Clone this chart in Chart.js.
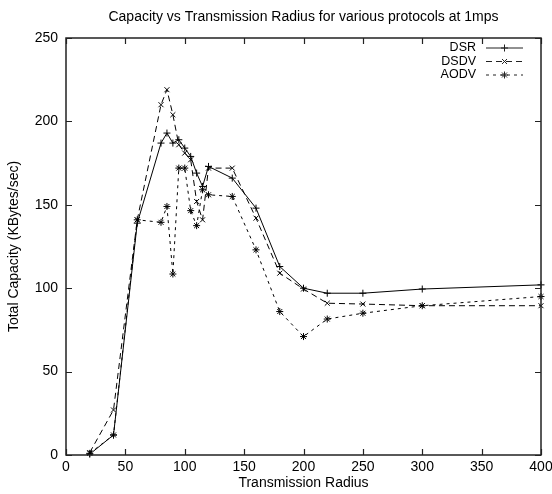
<!DOCTYPE html>
<html><head><meta charset="utf-8">
<script src="https://cdn.jsdelivr.net/npm/chart.js@4/dist/chart.umd.min.js"></script>
<style>html,body{margin:0;padding:0;background:#fff}#wrap{width:552px;height:494px;position:relative}</style>
</head><body><div id="wrap"><canvas id="c" width="552" height="494"></canvas></div>
<script>
const chartTitle = "Capacity vs Transmission Radius for various protocols at 1mps";
const xTitle = "Transmission Radius";
const yTitle = "Total Capacity (KBytes/sec)";
const seriesNames = ["DSR", "DSDV", "AODV"];
const radius = [20, 40, 60, 80, 85, 90, 95, 100, 105, 110, 115, 120, 140, 160, 180, 200, 220, 250, 300, 400];
const dsr  = [0.5, 12, 139, 187, 193, 187, 189, 184, 179, 169, 161, 173, 166, 148, 113, 100, 97, 97, 99.5, 102];
const dsdv = [1.5, 27, 141, 210, 219, 204, 186, 181, 177, 152, 141, 172, 172, 142, 109, 99.5, 91, 90.5, 89.5, 89.5];
const aodv = [1, 12, 141, 139.5, 149, 108.5, 172, 172, 146.5, 137.5, 159, 156, 155, 123, 86, 71, 81.5, 85, 89.5, 95];
const xTicks = [0, 50, 100, 150, 200, 250, 300, 350, 400];
const yTicks = [0, 50, 100, 150, 200, 250];

const FONT = "'Liberation Sans', Arial, Helvetica, sans-serif";
const styles = [
  {dash: [], point: 'cross'},
  {dash: [6, 4], point: 'crossRot'},
  {dash: [3, 4], point: 'star'}
];
const allSeries = [dsr, dsdv, aodv];

const datasets = allSeries.map((vals, i) => ({
  label: seriesNames[i],
  data: radius.map((r, k) => ({x: r, y: vals[k]})),
  borderColor: '#000',
  backgroundColor: '#000',
  borderWidth: 1,
  borderDash: styles[i].dash,
  pointStyle: styles[i].point,
  pointRadius: 3.5,
  pointBorderWidth: 1,
  pointBorderColor: '#000',
  tension: 0,
  fill: false,
  clip: false
}));

const framePlugin = {
  id: 'frame',
  afterDraw(chart) {
    const ctx = chart.ctx;
    const a = chart.chartArea;
    const xs = chart.scales.x, ys = chart.scales.y;
    ctx.save();
    ctx.strokeStyle = '#222';
    ctx.lineWidth = 1.5;
    ctx.setLineDash([]);
    ctx.strokeRect(a.left, a.top, a.right - a.left, a.bottom - a.top);
    ctx.lineWidth = 1.2;
    const tl = 6;
    xTicks.forEach(v => {
      const px = Math.round(xs.getPixelForValue(v)) + 0.5;
      ctx.beginPath();
      ctx.moveTo(px, a.bottom); ctx.lineTo(px, a.bottom - tl);
      ctx.moveTo(px, a.top); ctx.lineTo(px, a.top + tl);
      ctx.stroke();
    });
    yTicks.forEach(v => {
      const py = Math.round(ys.getPixelForValue(v)) + 0.5;
      ctx.beginPath();
      ctx.moveTo(a.left, py); ctx.lineTo(a.left + tl, py);
      ctx.moveTo(a.right, py); ctx.lineTo(a.right - tl, py);
      ctx.stroke();
    });
    // title
    ctx.fillStyle = '#000';
    ctx.font = '14px ' + FONT;
    ctx.textAlign = 'center';
    ctx.textBaseline = 'middle';
    ctx.fillText(chartTitle, (a.left + a.right) / 2, 17);
    // legend
    const rows = [48, 61.5, 75];
    ctx.font = '12.5px ' + FONT;
    ctx.textAlign = 'right';
    seriesNames.forEach((name, i) => {
      const y = rows[i];
      ctx.fillText(name, 476, y);
      ctx.beginPath();
      ctx.lineWidth = 1;
      ctx.setLineDash(styles[i].dash);
      ctx.moveTo(486, y); ctx.lineTo(523, y);
      ctx.stroke();
      ctx.setLineDash([]);
      Chart.helpers.drawPoint(ctx, {pointStyle: styles[i].point, radius: 3.5, rotation: 0, borderWidth: 1}, 504.5, y);
    });
    ctx.restore();
  }
};

new Chart(document.getElementById('c'), {
  type: 'line',
  data: {datasets},
  options: {
    responsive: false,
    animation: false,
    devicePixelRatio: 1,
    layout: {padding: {top: 38, right: 11, bottom: 0, left: 0}},
    plugins: {legend: {display: false}, title: {display: false}, tooltip: {enabled: false}},
    scales: {
      x: {
        type: 'linear', min: 0, max: 400,
        afterBuildTicks(s) { s.ticks = xTicks.map(v => ({value: v})); },
        afterFit(s) { s.height = 39; s.paddingLeft = 0; s.paddingRight = 0; },
        grid: {display: false, drawTicks: false},
        border: {display: false},
        ticks: {color: '#000', font: {family: FONT, size: 14}, padding: 4, maxRotation: 0, autoSkip: false},
        title: {display: true, text: xTitle, color: '#000', font: {family: FONT, size: 14}, padding: {top: 0, bottom: 2}}
      },
      y: {
        type: 'linear', min: 0, max: 250,
        afterBuildTicks(s) { s.ticks = yTicks.map(v => ({value: v})); },
        afterFit(s) { s.width = 66; s.paddingTop = 0; s.paddingBottom = 0; },
        grid: {display: false, drawTicks: false},
        border: {display: false},
        ticks: {color: '#000', font: {family: FONT, size: 14}, padding: 8},
        title: {display: true, text: yTitle, color: '#000', font: {family: FONT, size: 14}, padding: {top: 6, bottom: 0}}
      }
    }
  },
  plugins: [framePlugin]
});
</script>
</body></html>
